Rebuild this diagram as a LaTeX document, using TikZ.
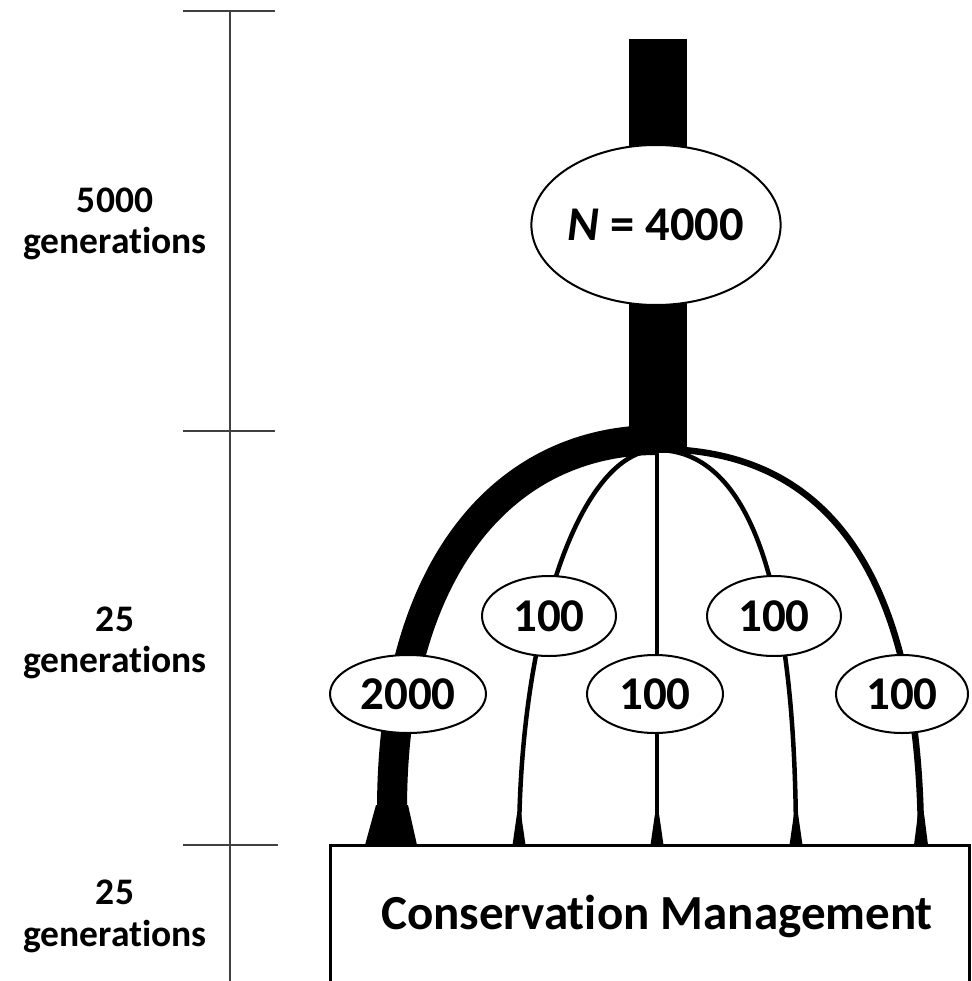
\documentclass[tikz,border=0pt]{standalone}
\usepackage{fontspec}
\setmainfont{Carlito}[Ligatures=NoCommon]
\usetikzlibrary{shapes.geometric}
\definecolor{axisgray}{HTML}{404040}
\begin{document}
\begin{tikzpicture}[x=1pt,y=-1pt,
  popell/.style={ellipse, draw=black, line width=2pt, fill=white, inner sep=0pt, outer sep=0pt,
    font=\fontsize{47}{56}\selectfont\bfseries},
  genlab/.style={anchor=base, inner sep=0pt, font=\fontsize{37.5}{42}\selectfont\bfseries},
  axisline/.style={draw=axisgray, line width=2pt},
  thinbr/.style={draw=black, line width=4.5pt},
  thickbr/.style={draw=black, line width=30pt},
  flare/.style={fill=black}]
\useasboundingbox (0,0) rectangle (971,981);
\clip (0,0) rectangle (971,981);

% time axis
\coordinate (atop) at (230,11);
\coordinate (abot) at (230,995);
\coordinate (k1l) at (183,11);  \coordinate (k1r) at (275,11);
\coordinate (k2l) at (183,431); \coordinate (k2r) at (275,431);
\coordinate (k3l) at (183,845); \coordinate (k3r) at (278,845);
\draw[axisline] (atop) -- (abot);
\draw[axisline] (k1l) -- (k1r);
\draw[axisline] (k2l) -- (k2r);
\draw[axisline] (k3l) -- (k3r);

% time labels
\node[genlab] (l1a) at (115,213) {5000};
\node[genlab] (l1b) at (115,254) {generations};
\node[genlab] (l2a) at (115,631) {25};
\node[genlab] (l2b) at (115,672) {generations};
\node[genlab] (l3a) at (115,904) {25};
\node[genlab] (l3b) at (115,946) {generations};

% branches
\coordinate (j) at (657,450);
\coordinate (jr) at (657,449);
\coordinate (jt) at (657,440);
\coordinate (e0) at (392,810);
\coordinate (e1) at (519,845);
\coordinate (e2) at (657,845);
\coordinate (e3) at (796,845);
\coordinate (e4) at (921,845);

\draw[thinbr] (j) .. controls (581,450) and (519,627) .. (e1);
\draw[thinbr] (j) -- (e2);
\draw[thinbr] (j) .. controls (736,450) and (796,549) .. (e3);
\draw[thinbr, line width=6.5pt] (jr) .. controls (807,449) and (921,545) .. (e4);
\draw[thickbr] (jt) .. controls (506,440) and (392,565) .. (e0);

% flared ends
\fill[flare] (376,805) -- (408,805) -- (417,845) -- (365,845) -- cycle;
\foreach \c in {519,657,796}{
  \fill[flare] (\c-2.2,815) -- (\c+2.2,815) -- (\c+6.5,845) -- (\c-6.5,845) -- cycle;
}
\fill[flare] (921-3.2,815) -- (921+3.2,815) -- (921+7,845) -- (921-7,845) -- cycle;

% trunk
\node[fill=black, minimum width=58pt, minimum height=414pt, inner sep=0pt, outer sep=0pt, anchor=north] (trunk) at (658,39) {};

% population ellipses
\node[popell, font=\fontsize{48.5}{58}\selectfont\bfseries, minimum width=246pt, minimum height=160pt] (n4000) at (656,225) {\textit{N} = 4000};
\node[popell, minimum width=156pt, minimum height=78pt] (p2000) at (408,694) {2000};
\node[popell, minimum width=134pt, minimum height=80pt] (p100a) at (549,616) {100};
\node[popell, minimum width=136pt, minimum height=78pt] (p100b) at (655,694) {100};
\node[popell, minimum width=134pt, minimum height=80pt] (p100c) at (774,616) {100};
\node[popell, minimum width=132pt, minimum height=78pt] (p100d) at (902,694) {100};

% management box
\node[draw=black, line width=3pt, fill=white, minimum width=639pt, minimum height=140pt,
  anchor=north west, inner sep=0pt, outer sep=0pt] (cm) at (330,845) {};
\node[anchor=base, inner sep=0pt, font=\fontsize{49}{58}\selectfont\bfseries] (cmtext) at (657,929) {Conservation Management};
\end{tikzpicture}
\end{document}
